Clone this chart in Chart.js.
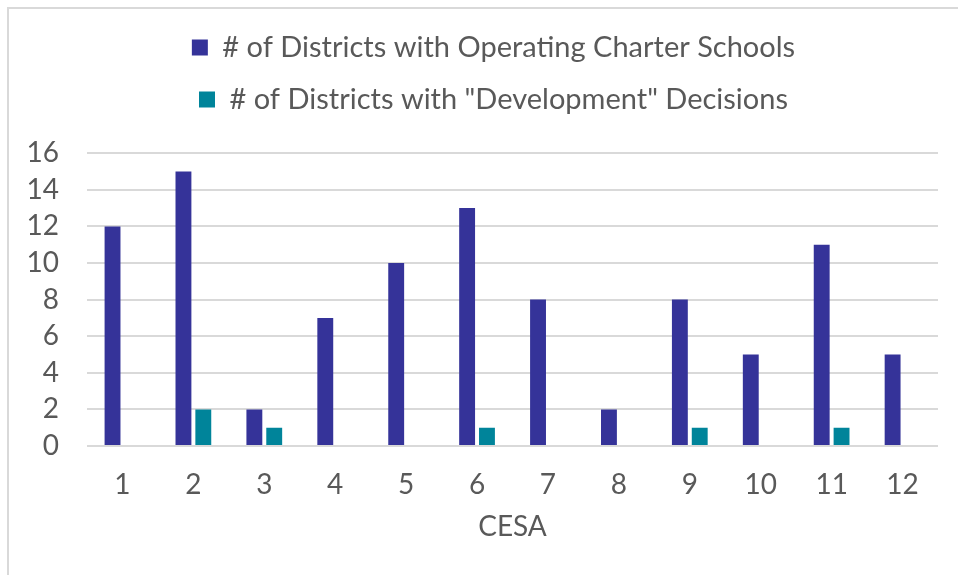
<!DOCTYPE html>
<html>
<head>
    <meta charset="utf-8">
    <title>Charter Schools by CESA</title>
    <script src="https://cdn.jsdelivr.net/npm/chart.js@4.4.0/dist/chart.umd.min.js"></script>
    <style>
        html, body { margin: 0; padding: 0; background: #fff; overflow: hidden; }
        #wrap { position: relative; width: 958px; height: 575px; }
        #frame {
            position: absolute; left: 7px; top: 7px; width: 960px; height: 580px;
            border-left: 2px solid #d9d9d9; border-top: 2px solid #d9d9d9;
            pointer-events: none;
        }
    </style>
</head>
<body>
    <div id="wrap">
        <canvas id="myChart" width="958" height="575"></canvas>
        <div id="frame"></div>
    </div>

    <script>
        var LABELS = ["1", "2", "3", "4", "5", "6", "7", "8", "9", "10", "11", "12"];
        var OPERATING = [12, 15, 2, 7, 10, 13, 8, 2, 8, 5, 11, 5];
        var DEVELOPMENT = [0, 2, 1, 0, 0, 1, 0, 0, 1, 0, 1, 0];
        var SERIES_NAMES = ["# of Districts with Operating Charter Schools", "# of Districts with \"Development\" Decisions"];

        var textColor = "#595959";
        var gridColor = "#d9d9d9";
        var tickFont = { family: "Lato", size: 28 };

        // nudge the legend a little right, like the original
        var legendShift = {
            id: 'legendShift',
            afterLayout: function(chart) {
                chart.legend.left += 11;
                chart.legend.right += 11;
            }
        };

        var ctx = document.getElementById('myChart').getContext('2d');
        var myChart = new Chart(ctx, {
            type: 'bar',
            data: {
                labels: LABELS,
                datasets: [{
                    label: SERIES_NAMES[0],
                    data: OPERATING,
                    backgroundColor: "#353399",
                    categoryPercentage: 0.56,
                    barPercentage: 0.8
                }, {
                    label: SERIES_NAMES[1],
                    data: DEVELOPMENT,
                    backgroundColor: "#00849a",
                    categoryPercentage: 0.56,
                    barPercentage: 0.8
                }]
            },
            plugins: [legendShift],
            options: {
                responsive: false,
                animation: false,
                layout: { padding: { top: 10, left: 27, right: 20, bottom: 31 } },
                plugins: {
                    tooltip: { enabled: false },
                    legend: {
                        position: 'top',
                        labels: {
                            color: textColor,
                            font: { family: "Lato", size: 29 },
                            boxWidth: 16,
                            boxHeight: 16,
                            padding: 23
                        }
                    },
                    // empty spacer between the legend and the plot
                    subtitle: {
                        display: true,
                        text: "",
                        weight: 500,
                        font: { size: 1 },
                        padding: { top: 14, bottom: 14 }
                    }
                },
                scales: {
                    x: {
                        grid: { display: false, drawTicks: false },
                        border: { display: false },
                        ticks: { color: textColor, font: tickFont, padding: 22 },
                        title: {
                            display: true,
                            text: "CESA",
                            color: textColor,
                            font: tickFont,
                            padding: { top: 9, bottom: 0 }
                        },
                        afterFit: function(scale) { scale.height = 98; }
                    },
                    y: {
                        min: 0,
                        max: 16,
                        ticks: { stepSize: 2, autoSkip: false, color: textColor, font: tickFont, padding: 28 },
                        grid: { color: gridColor, lineWidth: 2, drawTicks: false },
                        border: { display: false },
                        afterFit: function(scale) { scale.width = 60; }
                    }
                }
            }
        });
    </script>
</body>
</html>
